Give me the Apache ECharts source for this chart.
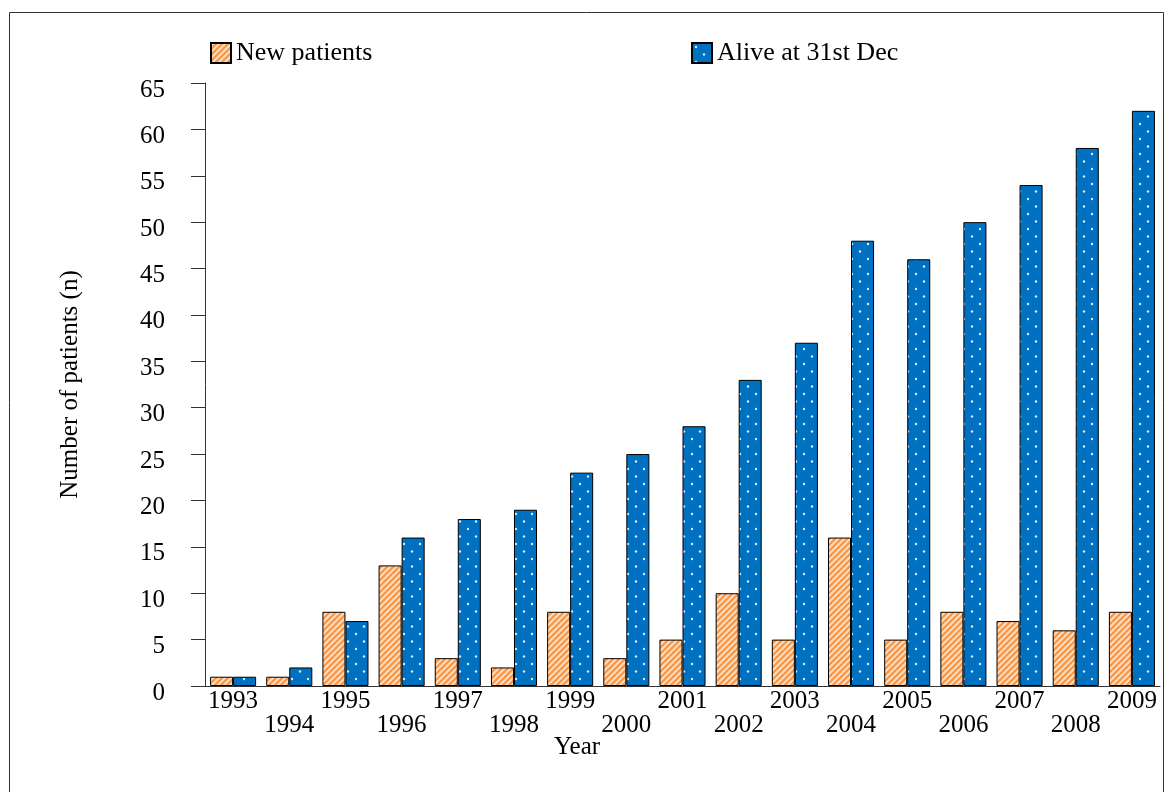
<!DOCTYPE html>
<html>
<head>
<meta charset="utf-8">
<script src="https://cdn.jsdelivr.net/npm/echarts@6/dist/echarts.min.js"></script>
<style>
  html, body { margin: 0; padding: 0; background: #fff; }
  #chart { width: 1165px; height: 792px; }
</style>
</head>
<body>
<div id="chart"></div>
<script>
var years = ['1993', '1994', '1995', '1996', '1997', '1998', '1999', '2000', '2001',
             '2002', '2003', '2004', '2005', '2006', '2007', '2008', '2009'];
var newPatients = [1, 1, 8, 13, 3, 2, 8, 3, 5, 10, 5, 16, 5, 8, 7, 6, 8];
var aliveAtDec = [1, 2, 7, 16, 18, 19, 23, 25, 28, 33, 37, 48, 46, 50, 54, 58, 62];
var yTicks = { min: 0, max: 65, step: 5 };

var FONT = '"Liberation Serif", "DejaVu Serif", serif';

// hatched orange fill
function stripes() {
  var c = document.createElement('canvas');
  c.width = 6; c.height = 6;
  var g = c.getContext('2d');
  g.fillStyle = '#fde3cc';
  g.fillRect(0, 0, 6, 6);
  g.strokeStyle = '#f59a4f';
  g.lineWidth = 2.4;
  g.beginPath();
  g.moveTo(-3, 3); g.lineTo(3, -3);
  g.moveTo(0, 6); g.lineTo(6, 0);
  g.moveTo(3, 9); g.lineTo(9, 3);
  g.stroke();
  return c;
}

// dotted blue fill
function dots() {
  var c = document.createElement('canvas');
  c.width = 16; c.height = 15;
  var g = c.getContext('2d');
  g.fillStyle = '#0070c0';
  g.fillRect(0, 0, 16, 15);
  g.fillStyle = '#dcebf8';
  [[4, 4], [12, 11.5]].forEach(function (p) {
    g.beginPath();
    g.arc(p[0], p[1], 1.2, 0, Math.PI * 2);
    g.fill();
  });
  return c;
}

var chart = echarts.init(document.getElementById('chart'));
chart.setOption({
  animation: false,
  textStyle: { fontFamily: FONT, color: '#000' },
  title: {
    text: 'Year',
    left: 554, top: 735,
    padding: 0,
    textStyle: { fontFamily: FONT, fontSize: 25, fontWeight: 'normal', color: '#000' }
  },
  graphic: [{
    type: 'rect',
    shape: { x: 9.5, y: 12.5, width: 1154, height: 800 },
    style: { fill: 'none', stroke: '#333', lineWidth: 1 },
    silent: true
  }],
  legend: [{
    data: ['New patients'],
    left: 205, top: 35,
    itemWidth: 20, itemHeight: 20,
    icon: 'rect',
    textStyle: { fontFamily: FONT, fontSize: 26, color: '#000' }
  }, {
    data: ['Alive at 31st Dec'],
    left: 686, top: 35,
    itemWidth: 20, itemHeight: 20,
    icon: 'rect',
    textStyle: { fontFamily: FONT, fontSize: 26, color: '#000' }
  }],
  grid: { left: 205, right: 5, top: 83, bottom: 106 },
  xAxis: {
    type: 'category',
    data: years,
    axisLine: { lineStyle: { color: '#333', width: 1 } },
    axisTick: { show: false },
    axisLabel: {
      interval: 0,
      margin: 3,
      fontFamily: FONT, fontSize: 25, color: '#000',
      lineHeight: 24,
      formatter: function (v, i) { return i % 2 ? '\n' + v : v; }
    }
  },
  yAxis: {
    type: 'value',
    min: yTicks.min, max: yTicks.max, interval: yTicks.step,
    name: 'Number of patients (n)',
    nameLocation: 'middle',
    nameGap: 122,
    nameTextStyle: { fontFamily: FONT, fontSize: 25, color: '#000' },
    axisLine: { show: true, lineStyle: { color: '#333', width: 1 } },
    axisTick: { show: true, length: 14, lineStyle: { color: '#333' } },
    splitLine: { show: false },
    axisLabel: {
      margin: 40, fontFamily: FONT, fontSize: 25, color: '#000',
      verticalAlign: 'top', lineHeight: 14
    }
  },
  series: [{
    name: 'New patients',
    type: 'bar',
    data: newPatients,
    barGap: '0%',
    barCategoryGap: '18%',
    itemStyle: {
      color: { image: stripes(), repeat: 'repeat' },
      borderColor: '#000', borderWidth: 1
    }
  }, {
    name: 'Alive at 31st Dec',
    type: 'bar',
    data: aliveAtDec,
    itemStyle: {
      color: { image: dots(), repeat: 'repeat' },
      borderColor: '#000', borderWidth: 1
    }
  }]
});
</script>
</body>
</html>
